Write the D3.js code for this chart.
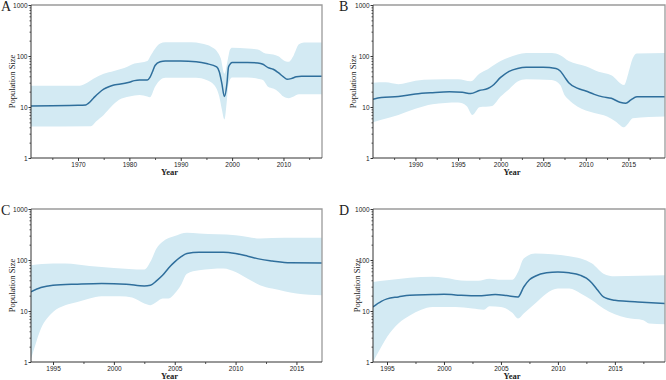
<!DOCTYPE html>
<html>
<head>
<meta charset="utf-8">
<script src="https://cdn.jsdelivr.net/npm/d3@7"></script>
<style>
  body { margin: 0; background: #fff; }
  .tick text { font-family: "Liberation Sans", Arial, sans-serif; font-size: 6.5px; fill: #222; }
  .lab { font-family: "Liberation Serif", "Times New Roman", serif; fill: #222; }
</style>
</head>
<body>
<svg id="chart" width="666" height="380"></svg>
<script>
// panel A
const aMidYear = [1960.85, 1970, 1971.5, 1972, 1973, 1974, 1975, 1976, 1977, 1978, 1980, 1981, 1982, 1983.5, 1984, 1984.5, 1985, 1986, 1987, 1990, 1993, 1995, 1997, 1997.5, 1998, 1998.5, 1999, 1999.3, 1999.7, 2000, 2003, 2005, 2006, 2007, 2008, 2009, 2010, 2010.7, 2011.5, 2012.5, 2013.5, 2017.5];
const aMid = [10.5, 10.8, 11, 11.8, 14.9, 18.6, 22.3, 25, 27, 27.8, 30.5, 32.9, 33.7, 33.7, 38, 49, 65, 77, 80, 80, 77, 71, 61, 49, 29, 16, 29, 61, 71, 74.5, 74.5, 73, 69, 59, 55, 47, 39, 35, 36, 39, 40, 40];
const aHiYear = [1960.85, 1970, 1971.5, 1973, 1975, 1977, 1979, 1981, 1983.5, 1984, 1985, 1986, 1987, 1992, 1994, 1996, 1997, 1997.8, 1998.5, 1999.2, 1999.6, 2000, 2003, 2005, 2006.5, 2008, 2009, 2010, 2011, 2012, 2013, 2014, 2017.5];
const aHi = [26, 26, 29, 36, 45, 51, 58, 71, 80, 96, 139, 175, 185, 185, 175, 150, 126, 89, 45, 89, 134, 145, 140, 134, 112, 107, 99, 83, 77, 104, 170, 183, 183];
const aLoYear = [1960.85, 1972.5, 1973.5, 1975, 1976.5, 1978, 1980, 1982, 1983.5, 1984, 1985, 1986, 1987, 1993, 1995, 1996.5, 1997.5, 1998, 1998.5, 1999, 1999.3, 2000, 2003, 2005, 2006, 2007, 2008, 2009, 2010, 2011, 2012, 2013, 2017.5];
const aLo = [4.15, 4.2, 5.2, 7, 10.2, 13.8, 16, 17.2, 16, 15.5, 25, 34, 37.5, 37.5, 34, 27, 16, 9, 5.7, 14, 29, 38, 38, 36, 34, 25, 23, 20, 16, 14.8, 16, 17.7, 17.7];

// panel B
const bMidYear = [1985.02, 1986, 1988, 1990, 1992, 1994, 1995.5, 1996.5, 1997.5, 1998.5, 1999, 2000, 2001, 2002, 2003, 2005, 2006.5, 2007, 2007.5, 2008, 2009, 2010, 2011, 2012, 2013, 2014, 2014.7, 2015.3, 2016, 2019.3];
const bMid = [14.2, 15.3, 16, 18, 19.1, 19.8, 19.4, 18.3, 21, 23, 25.8, 38, 50, 57, 60, 60, 57, 51, 39, 30, 23.5, 20.6, 17.7, 15.8, 14.8, 12.4, 11.8, 13.8, 15.8, 15.8];
const bHiYear = [1985.02, 1986.5, 1988, 1990, 1992, 1995, 1996.5, 1997.5, 1998.5, 1999.5, 2000.5, 2002, 2003, 2006, 2007, 2008, 2010, 2011.5, 2013, 2014.5, 2015, 2015.5, 2016, 2019.3];
const bHi = [30, 30.5, 28, 32.8, 34.8, 35, 32, 45, 55, 71, 87, 107, 115, 115, 104, 80, 63, 49, 42, 27, 46, 89, 112, 115];
const bLoYear = [1985.02, 1986, 1988, 1990, 1992, 1995, 1996, 1996.7, 1997.5, 1999, 2000, 2001, 2002, 2003, 2006, 2007, 2007.5, 2008, 2009, 2011, 2012.5, 2013.5, 2014.5, 2015, 2015.5, 2019.3];
const bLo = [5, 5.6, 7, 9.2, 11.3, 12.2, 10.5, 7, 9.9, 10.5, 16, 22.3, 31.5, 35, 33.7, 27, 17.2, 13.8, 10.2, 7.6, 6.5, 5.2, 4, 4.8, 6, 6.5];

// panel C
const cMidYear = [1993.19, 1994, 1995, 1997, 1999, 2001, 2002.5, 2003, 2003.5, 2004, 2004.5, 2005, 2005.5, 2006, 2007, 2009, 2010, 2011, 2012, 2013, 2014.5, 2017.1];
const cMid = [23.7, 28.8, 32, 33.6, 34.6, 33.6, 31, 32, 39, 50, 70, 92, 115, 134, 142, 142, 134, 119, 104, 96, 88, 87];
const cHiYear = [1993.19, 1995, 1996, 1998, 2000, 2002.5, 2003, 2003.5, 2004, 2005, 2006, 2007, 2010, 2011, 2012, 2014, 2017.1];
const cHi = [79, 85, 85, 76, 70, 65, 92, 168, 228, 294, 342, 332, 307, 284, 265, 272, 272];
const cLoYear = [1993.19, 1993.5, 1994, 1994.5, 1995, 1996, 1997, 1998, 1999, 2000.5, 2001.5, 2002.5, 2003, 2003.5, 2004, 2004.5, 2005, 2005.5, 2006, 2007, 2009, 2010, 2011, 2012, 2013, 2014, 2015, 2017.1];
const cLo = [1.16, 2, 4.5, 7.1, 9.6, 13, 15, 17.5, 19.5, 19.5, 18.3, 14, 13, 15, 17.5, 17.5, 22, 32, 54, 63, 68, 58, 43, 32, 27.5, 24.5, 22, 20.4];

// panel D
const dMidYear = [1993.77, 1994.5, 1995, 1996, 1997, 1999, 2000, 2001, 2003, 2004.5, 2005.5, 2006.5, 2007, 2007.5, 2008, 2009, 2010, 2011, 2012, 2012.5, 2013, 2013.5, 2014, 2015, 2016, 2017, 2019.4];
const dMid = [12, 15.5, 17.3, 18.9, 20.4, 21, 21.3, 20.7, 19.8, 21, 20.1, 18.9, 29.6, 41, 48, 56, 58, 56, 50, 44, 35, 25.5, 18.9, 16.2, 15.5, 15, 14];
const dHiYear = [1993.77, 1995, 1997, 1999, 2000, 2002, 2003, 2004, 2005, 2006, 2006.5, 2007, 2008, 2009.5, 2011, 2012, 2013, 2014, 2015, 2019.4];
const dHi = [37, 40, 45, 47, 45, 39, 39, 43, 41, 41, 58, 107, 134, 130, 119, 107, 85, 54, 48, 50];
const dLoYear = [1993.77, 1994.5, 1995, 1996, 1997, 1998, 1999, 2001, 2002.5, 2003.5, 2004, 2005, 2006, 2006.5, 2007, 2008, 2009, 2010, 2011, 2012, 2013, 2014, 2015, 2016, 2017.5, 2018, 2019.4];
const dLo = [1, 2, 3.1, 5.7, 8.2, 10.6, 12, 12, 11.2, 10.6, 12.4, 12, 9.2, 7.1, 8.9, 14, 22, 27.5, 27.5, 22, 16.2, 11.2, 8.6, 7.4, 6.6, 5.7, 5.5];

const yTicks = [1, 10, 100, 1000];
const panelLetters = ["A", "B", "C", "D"];
const xDomains = [[1960.85, 2017.5], [1985.02, 2019.3], [1993.19, 2017.1], [1993.77, 2019.4]];
const xSteps = [10, 5, 5, 5];

const bandColor = "#d3eaf3";
const lineColor = "#2f6f9c";

const svg = d3.select("#chart");

// plot boxes: left, right, top, bottom
const boxes = [
    { l: 31, r: 322, t: 5, b: 158, labX: 12, letX: 1 },
    { l: 373, r: 665, t: 5, b: 158, labX: 353, letX: 339 },
    { l: 31, r: 322, t: 209, b: 362, labX: 12, letX: 1 },
    { l: 373, r: 665, t: 209, b: 362, labX: 357, letX: 339 }
];

const series = [
    { mid: d3.zip(aMidYear, aMid), hi: d3.zip(aHiYear, aHi), lo: d3.zip(aLoYear, aLo) },
    { mid: d3.zip(bMidYear, bMid), hi: d3.zip(bHiYear, bHi), lo: d3.zip(bLoYear, bLo) },
    { mid: d3.zip(cMidYear, cMid), hi: d3.zip(cHiYear, cHi), lo: d3.zip(cLoYear, cLo) },
    { mid: d3.zip(dMidYear, dMid), hi: d3.zip(dHiYear, dHi), lo: d3.zip(dLoYear, dLo) }
];

boxes.forEach(function(bx, i) {
    const x = d3.scaleLinear().domain(xDomains[i]).range([bx.l, bx.r]);
    const y = d3.scaleLog().domain([1, 1000]).range([bx.b, bx.t]);
    const s = series[i];
    const g = svg.append("g");

    // clip to plot area
    g.append("clipPath").attr("id", "plot" + i)
        .append("rect").attr("x", bx.l).attr("y", bx.t)
        .attr("width", bx.r - bx.l).attr("height", bx.b - bx.t);

    // band = (region under upper curve) ∩ (region above lower curve)
    const underHi = d3.area().curve(d3.curveMonotoneX)
        .x(d => x(d[0])).y0(bx.b + 5).y1(d => y(d[1]));
    g.append("clipPath").attr("id", "hi" + i)
        .append("path").attr("d", underHi(s.hi));

    const aboveLo = d3.area().curve(d3.curveMonotoneX)
        .x(d => x(d[0])).y0(bx.t - 5).y1(d => y(d[1]));

    g.append("g").attr("clip-path", "url(#plot" + i + ")")
        .append("path")
        .attr("clip-path", "url(#hi" + i + ")")
        .attr("d", aboveLo(s.lo))
        .attr("fill", bandColor);

    const line = d3.line().curve(d3.curveMonotoneX)
        .x(d => x(d[0])).y(d => y(d[1]));
    g.append("path")
        .attr("clip-path", "url(#plot" + i + ")")
        .attr("d", line(s.mid))
        .attr("fill", "none")
        .attr("stroke", lineColor)
        .attr("stroke-width", 1.5);

    // frame (top / right light grey)
    g.append("path")
        .attr("d", `M${bx.l},${bx.t}H${bx.r}V${bx.b}`)
        .attr("fill", "none").attr("stroke", "#9a9a9a").attr("stroke-width", 1.3);

    // x axis
    const step = xSteps[i];
    const first = Math.ceil(xDomains[i][0] / step) * step;
    const majors = d3.range(first, xDomains[i][1], step);
    const minorStart = Math.ceil(xDomains[i][0] / (step / 2)) * (step / 2);
    const minors = d3.range(minorStart, xDomains[i][1], step / 2).filter(v => majors.indexOf(v) < 0);

    g.append("g").attr("transform", `translate(0,${bx.b})`)
        .call(d3.axisBottom(x).tickValues(minors).tickSize(2).tickFormat(""))
        .call(a => a.select(".domain").remove())
        .selectAll("line").attr("stroke", "#555");
    g.append("g").attr("transform", `translate(0,${bx.b})`)
        .call(d3.axisBottom(x).tickValues(majors).tickSize(3).tickPadding(1).tickFormat(d3.format("d")))
        .call(a => a.select(".domain").attr("stroke", "#333").attr("d", `M${bx.l},0H${bx.r}`))
        .selectAll("line").attr("stroke", "#333");

    // y axis with log minor ticks
    const yMinor = [];
    [1, 10, 100].forEach(dec => d3.range(2, 10).forEach(k => yMinor.push(dec * k)));
    g.append("g").attr("transform", `translate(${bx.l},0)`)
        .call(d3.axisLeft(y).tickValues(yMinor).tickSize(1.5).tickFormat(""))
        .call(a => a.select(".domain").remove())
        .selectAll("line").attr("stroke", "#555");
    g.append("g").attr("transform", `translate(${bx.l},0)`)
        .call(d3.axisLeft(y).tickValues(yTicks).tickSize(2.5).tickPadding(1).tickFormat(d3.format("d")))
        .call(a => a.select(".domain").attr("stroke", "#333").attr("d", `M0,${bx.t}V${bx.b}`))
        .selectAll("line").attr("stroke", "#333");

    // labels
    const cy = (bx.t + bx.b) / 2;
    g.append("text").attr("class", "lab")
        .attr("transform", `translate(${bx.labX + 3},${cy}) rotate(-90)`)
        .attr("text-anchor", "middle")
        .style("font-size", "8.5px")
        .text("Population Size");

    g.append("text").attr("class", "lab")
        .attr("x", (bx.l + bx.r) / 2 - 7).attr("y", bx.b + 17.3)
        .attr("text-anchor", "middle")
        .style("font-size", "8.5px").style("font-weight", "bold")
        .text("Year");

    g.append("text").attr("class", "lab")
        .attr("x", bx.letX).attr("y", bx.t + 6)
        .style("font-size", "14px")
        .text(panelLetters[i]);
});
</script>
</body>
</html>
